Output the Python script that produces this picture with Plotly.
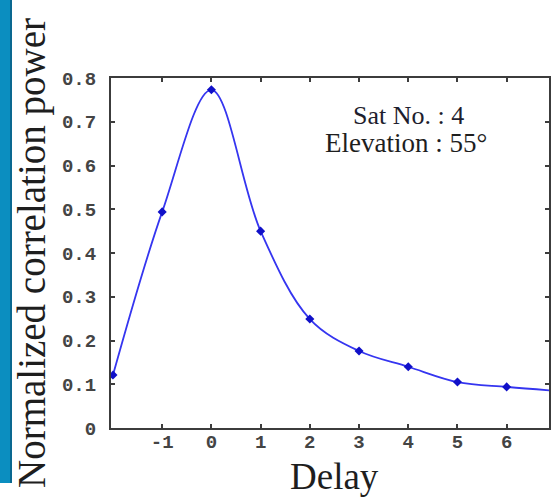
import plotly.graph_objects as go

# Correlation power versus code delay
delay = [-2, -1, 0, 1, 2, 3, 4, 5, 6, 7]
power = [0.121, 0.494, 0.773, 0.450, 0.249, 0.176, 0.140, 0.105, 0.094, 0.085]

x_ticks = [-1, 0, 1, 2, 3, 4, 5, 6]
x_tick_text = ["-1", "0", "1", "2", "3", "4", "5", "6"]
y_ticks = [0, 0.1, 0.2, 0.3, 0.4, 0.5, 0.6, 0.7, 0.8]
y_tick_text = ["0", "0.1", "0.2", "0.3", "0.4", "0.5", "0.6", "0.7", "0.8"]

sat_label = "Sat No. : 4"
elev_label = "Elevation : 55°"

serif = "Liberation Serif, Times New Roman, serif"
mono = "Liberation Mono, Courier New, monospace"
axis_col = "#3c3c3c"

fig = go.Figure()
fig.add_trace(go.Scatter(
    x=delay, y=power,
    mode="lines+markers",
    line=dict(color="#3535f0", width=1.8, shape="spline", smoothing=1.0),
    marker=dict(symbol="diamond", size=7, color="#1010c8"),
    showlegend=False,
))

axis_common = dict(
    showline=True, linecolor=axis_col, linewidth=2, mirror="ticks",
    ticks="inside", ticklen=4, tickwidth=1.5, tickcolor=axis_col,
    showgrid=False, zeroline=False,
    tickfont=dict(family=mono, size=19, color="#444444", weight="bold"),
)

fig.update_xaxes(range=[-2.04, 6.86], tickvals=x_ticks, ticktext=x_tick_text,
                 ticklabelstandoff=-5, **axis_common)
fig.update_yaxes(range=[0, 0.8], tickvals=y_ticks, ticktext=y_tick_text,
                 ticklabelstandoff=9, **axis_common)

# Axis titles
fig.add_annotation(text="Delay", xref="paper", yref="paper", x=0.51, y=0,
                   xanchor="center", yanchor="top", yshift=-26, showarrow=False,
                   font=dict(family=serif, size=37, color="#1e1e1e"))
fig.add_annotation(text="Normalized correlation power", xref="paper", yref="paper",
                   x=0, y=0.5, xanchor="center", yanchor="middle", xshift=-79,
                   textangle=-90, showarrow=False,
                   font=dict(family=serif, size=39, color="#1e1e1e"))

# Satellite info
fig.add_annotation(text=sat_label, xref="x", yref="paper", x=4, y=0.893,
                   xanchor="center", yanchor="middle", showarrow=False,
                   font=dict(family=serif, size=26, color="#1e1e2e"))
fig.add_annotation(text=elev_label, xref="x", yref="paper", x=3.95, y=0.814,
                   xanchor="center", yanchor="middle", showarrow=False,
                   font=dict(family=serif, size=27, color="#1e1e1e"))

# Blue edge strip on the left
fig.add_shape(type="rect", xref="paper", yref="paper",
              xsizemode="pixel", ysizemode="pixel", xanchor=0, yanchor=0,
              x0=-111, x1=-101, y0=-55, y1=440,
              fillcolor="#0b8ec0", line=dict(width=0), layer="above")
fig.add_shape(type="rect", xref="paper", yref="paper",
              xsizemode="pixel", ysizemode="pixel", xanchor=0, yanchor=0,
              x0=-101, x1=-99, y0=-55, y1=440,
              fillcolor="#0a6890", line=dict(width=0), layer="above")

fig.update_layout(
    width=551, height=497,
    margin=dict(l=111, r=0, t=78, b=69),
    paper_bgcolor="white", plot_bgcolor="white",
)

fig.write_html("out.html")
